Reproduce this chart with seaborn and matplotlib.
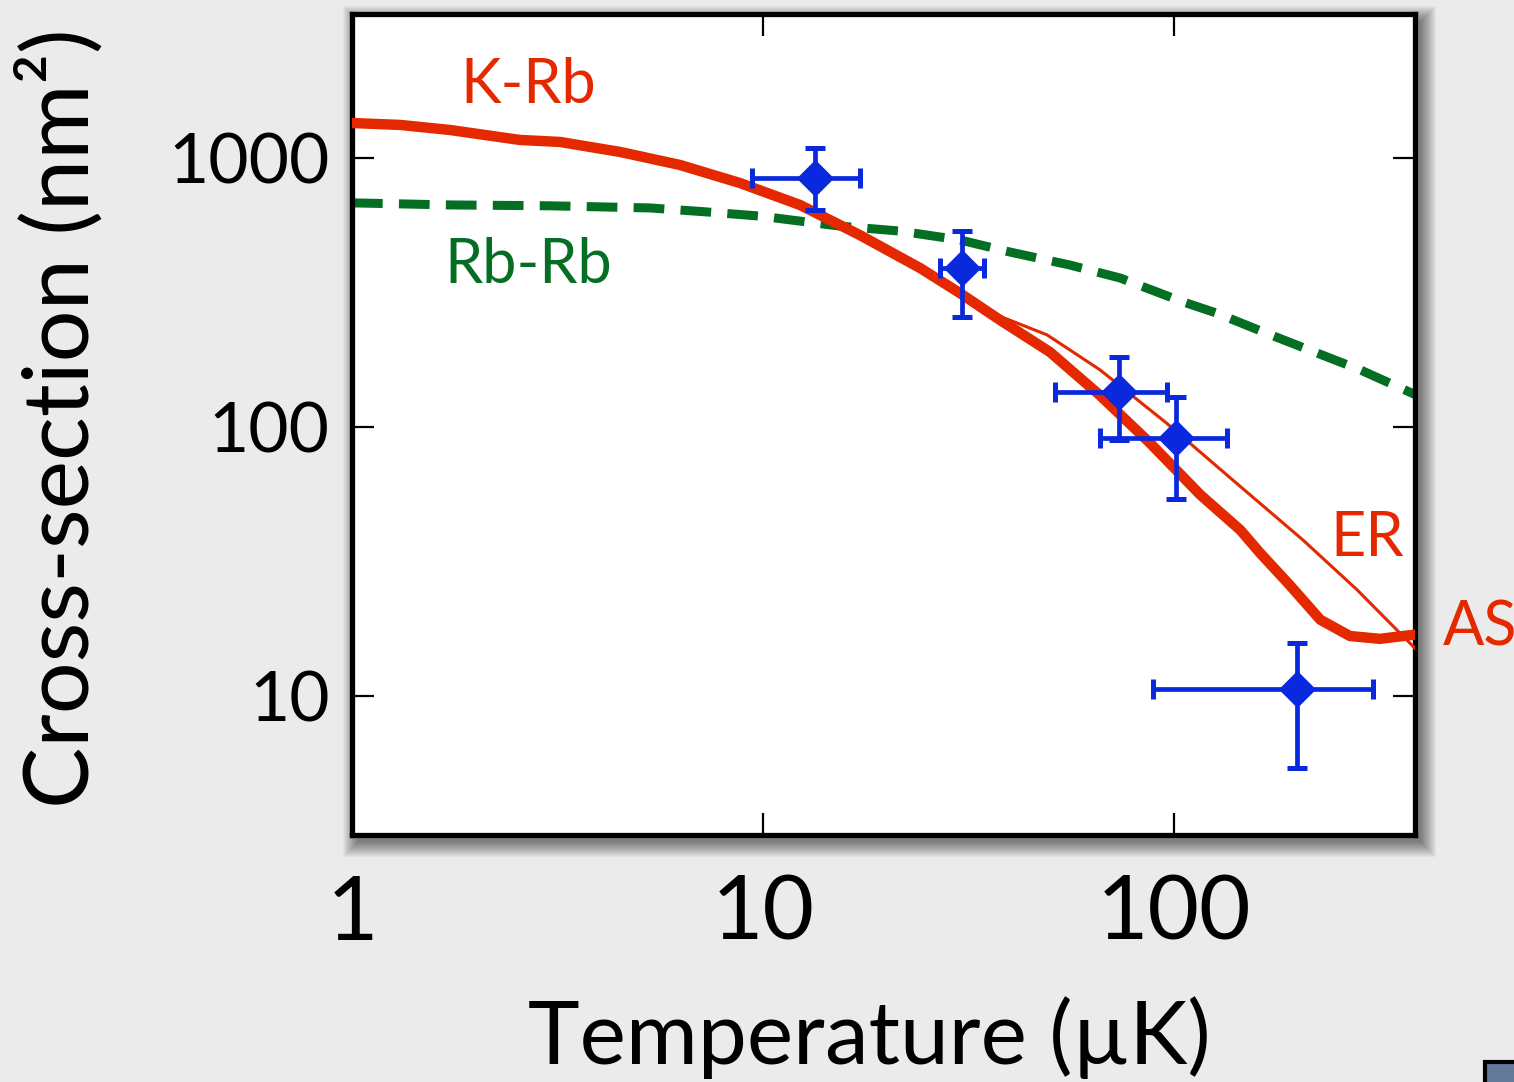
import numpy as np
import pandas as pd
import matplotlib
matplotlib.use("Agg")
import matplotlib.pyplot as plt
import seaborn as sns
from matplotlib.patches import Rectangle
from matplotlib.ticker import FixedLocator, FixedFormatter, NullLocator

# ---------------- data ----------------
# K-Rb cross-section, full calculation (AS) - thick red
T_as = [1.0, 1.31, 1.73, 2.56, 3.21, 4.49, 6.28, 8.79, 12.3, 17.2, 24.1, 30.1, 37.7,
        49.9, 66.1, 87.4, 116, 145, 162, 191, 227, 268, 317, 386]
sigma_as = [1349, 1327, 1271, 1167, 1147, 1053, 942, 807, 669, 517, 390, 315, 250,
            190, 131, 87.2, 55.9, 41.4, 34.0, 25.9, 19.2, 16.7, 16.3, 16.9]

# K-Rb effective range approximation (ER) - thin red
T_er = [1.0, 1.31, 1.73, 2.56, 3.21, 4.49, 6.28, 8.79, 12.3, 17.2, 24.1, 30.1, 37.7,
        49.1, 66.1, 96.2, 139, 206, 279, 390]
sigma_er = [1349, 1327, 1271, 1167, 1147, 1053, 942, 807, 669, 517, 395, 320, 258,
            220, 163, 103, 63.5, 38.0, 24.8, 14.8]

# Rb-Rb cross-section - green dashed
T_rbrb = [1.0, 1.73, 3.03, 5.31, 7.31, 9.84, 15.4, 21.5, 30.1, 39.9, 55.8, 73.9,
          105, 127, 168, 214, 284, 386]
sigma_rbrb = [681, 669, 664, 652, 630, 608, 558, 535, 496, 447, 400, 358,
              292, 265, 223, 193, 163, 132]

# measured points (blue diamonds)
T_meas = [13.4, 30.5, 73.5, 101, 199]
sigma_meas = [843, 390, 135, 91, 10.6]
T_lo = [9.4, 27.0, 51.3, 66.0, 88.9]
T_hi = [17.2, 34.5, 96.2, 135, 305]
sigma_lo = [640, 256, 89.6, 54.0, 5.4]
sigma_hi = [1090, 535, 182, 129, 15.7]

x_ticks = [1, 10, 100]
x_ticklabels = ["1", "10", "100"]
y_ticks = [10, 100, 1000]
y_ticklabels = ["10", "100", "1000"]

# ---------------- style ----------------
sns.set_style("ticks")
plt.rcParams["font.family"] = ["Lato", "DejaVu Sans"]
plt.rcParams["text.color"] = "black"
plt.rcParams["axes.labelcolor"] = "black"
plt.rcParams["xtick.color"] = "black"
plt.rcParams["ytick.color"] = "black"

RED = "#e42800"
GREEN = "#046e23"
BLUE = "#0a28dc"
BG = "#ebebeb"

W, H = 1514, 1082
L, R, T, B = 352, 1415, 14, 835
fig = plt.figure(figsize=(W / 100, H / 100), dpi=100, facecolor=BG)
ax = fig.add_axes([L / W, 1 - B / H, (R - L) / W, (B - T) / H])
ax.set_facecolor("white")

# drop shadow behind axes
for i in range(16):
    fig.patches.append(Rectangle(((L + 6 - i) / W, 1 - (B + 7 + i) / H),
                                 (R - L + 2 * i) / W, (B - T + 2 * i) / H,
                                 transform=fig.transFigure, facecolor="black",
                                 edgecolor="none", alpha=0.035, zorder=-5))

# small decoration at bottom-right corner
fig.patches.append(Rectangle((1485 / W, 1 - 1100 / H), 60 / W, 38 / H,
                             transform=fig.transFigure, facecolor="#62799a",
                             edgecolor="black", linewidth=3, zorder=-4))

df_as = pd.DataFrame({"T": T_as, "sigma": sigma_as})
df_er = pd.DataFrame({"T": T_er, "sigma": sigma_er})
df_rb = pd.DataFrame({"T": T_rbrb, "sigma": sigma_rbrb})
df_m = pd.DataFrame({"T": T_meas, "sigma": sigma_meas})

sns.lineplot(data=df_rb, x="T", y="sigma", ax=ax, color=GREEN, linewidth=6.5,
             linestyle=(0, (3.4, 1.8)), dash_capstyle="butt", sort=False,
             zorder=2)
sns.lineplot(data=df_er, x="T", y="sigma", ax=ax, color=RED, linewidth=2.2,
             sort=False, zorder=3)
sns.lineplot(data=df_as, x="T", y="sigma", ax=ax, color=RED, linewidth=7.5,
             sort=False, zorder=4, solid_joinstyle="round")

xerr = [np.array(T_meas) - np.array(T_lo), np.array(T_hi) - np.array(T_meas)]
yerr = [np.array(sigma_meas) - np.array(sigma_lo), np.array(sigma_hi) - np.array(sigma_meas)]
ax.errorbar(T_meas, sigma_meas, xerr=xerr, yerr=yerr, fmt="none", ecolor=BLUE,
            elinewidth=3.4, capsize=7, capthick=3.6, zorder=5)
sns.scatterplot(data=df_m, x="T", y="sigma", ax=ax, marker="D", s=360,
                color=BLUE, edgecolor=BLUE, linewidth=0, zorder=6)

ax.set_xscale("log")
ax.set_yscale("log")
ax.set_xlim(1, 386)
ax.set_ylim(3.04, 3430)

ax.xaxis.set_major_locator(FixedLocator(x_ticks))
ax.xaxis.set_major_formatter(FixedFormatter(x_ticklabels))
ax.yaxis.set_major_locator(FixedLocator(y_ticks))
ax.yaxis.set_major_formatter(FixedFormatter(y_ticklabels))
ax.xaxis.set_minor_locator(NullLocator())
ax.yaxis.set_minor_locator(NullLocator())

ax.tick_params(axis="both", which="major", direction="in", length=16, width=1.6,
               color="black", top=True, right=True)
ax.tick_params(axis="x", labelsize=64, pad=28)
ax.tick_params(axis="y", labelsize=50, pad=16)

for sp in ax.spines.values():
    sp.set_visible(True)
    sp.set_linewidth(3.8)
    sp.set_color("black")

ax.set_xlabel("Temperature (µK)", fontsize=63, va="center")
ax.xaxis.set_label_coords((869 - L) / (R - L), (B - 1038) / (B - T))
ax.set_ylabel("Cross-section (nm²)", fontsize=66, va="center")
ax.yaxis.set_label_coords((60 - L) / (R - L), (B - 418) / (B - T))

def fx(px):
    return (px - L) / (R - L)

def fy(py):
    return (B - py) / (B - T)

ax.text(fx(528), fy(103), "K-Rb", transform=ax.transAxes, color=RED,
        fontsize=44, ha="center", va="baseline")
ax.text(fx(528), fy(283), "Rb-Rb", transform=ax.transAxes, color=GREEN,
        fontsize=44, ha="center", va="baseline")
ax.text(fx(1367), fy(556), "ER", transform=ax.transAxes, color=RED,
        fontsize=44, ha="center", va="baseline")
ax.text(fx(1443), fy(645), "AS", transform=ax.transAxes, color=RED,
        fontsize=44, ha="left", va="baseline", clip_on=False)

fig.savefig("out.png", dpi=100, facecolor=BG)
